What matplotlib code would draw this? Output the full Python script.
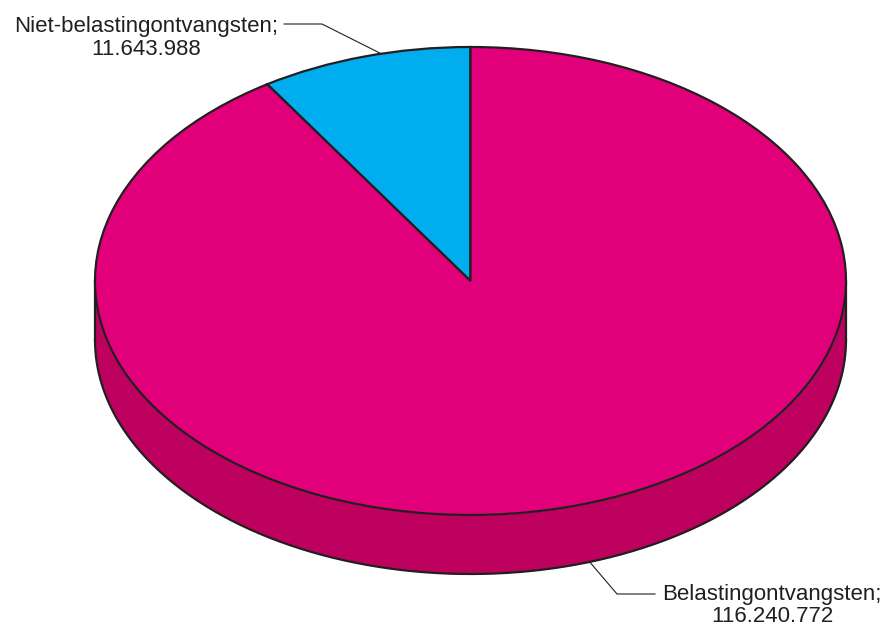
import numpy as np
import matplotlib
matplotlib.use("Agg")
import matplotlib.pyplot as plt

# Data
labels = ["Niet-belastingontvangsten", "Belastingontvangsten"]
values = [11643988, 116240772]
label_names = ["Niet-belastingontvangsten;", "Belastingontvangsten;"]
label_values = ["11.643.988", "116.240.772"]
colors = ["#00AEEF", "#E2007A"]
side_color = "#BE005F"
edge = "#231F20"

W, H = 888, 628
CX, CY, RX, RY, DEPTH = 470.5, 281.0, 375.5, 234.0, 59.0

def px(x, y):
    return ((x - CX) / RX, (CY - y) / RY)

fig = plt.figure(figsize=(W / 100, H / 100), dpi=100)
ax = fig.add_axes([0, 0, 1, 1])

LW = 1.6
d = DEPTH / RY
t = np.linspace(np.pi, 2 * np.pi, 400)
xs = np.cos(t)
ytop = np.sin(t)
ybot = ytop - d
ax.fill_between(xs, ybot, ytop, color=side_color, linewidth=0, zorder=1)
ax.plot(xs, ybot, color=edge, lw=LW, zorder=2)
ax.plot([-1, -1], [0, -d], color=edge, lw=LW, zorder=2)
ax.plot([1, 1], [0, -d], color=edge, lw=LW, zorder=2)

wedges, _ = ax.pie(values, startangle=90, counterclock=True, colors=colors,
                   radius=1, center=(0, 0),
                   wedgeprops=dict(edgecolor=edge, linewidth=LW))
for w in wedges:
    w.set_zorder(3)

ax.set_aspect("auto")
x0, y0 = px(0, H)
x1, y1 = px(W, 0)
ax.set_xlim(x0, x1)
ax.set_ylim(y0, y1)
ax.axis("off")

FS = 16
font = dict(ha="center", va="baseline", fontsize=FS, family="Liberation Sans", color="#231F20")

# Label 1 (blue slice), leader from top edge
total = sum(values)
a1 = np.deg2rad(90 + 360 * values[0] / total * 0.42)
anchor1 = (np.cos(a1), np.sin(a1))
k1 = px(322, 24)
e1 = px(284, 24)
ax.plot([anchor1[0], k1[0], e1[0]], [anchor1[1], k1[1], e1[1]], color=edge, lw=0.8, zorder=4)
ax.text(*px(146, 32), label_names[0], **font)
ax.text(*px(146, 55), label_values[0], **font)

# Label 2 (pink slice), leader from bottom of side
a2 = np.deg2rad(288.5)
anchor2 = (np.cos(a2), np.sin(a2) - d)
k2 = px(617, 594)
e2 = px(655, 594)
ax.plot([anchor2[0], k2[0], e2[0]], [anchor2[1], k2[1], e2[1]], color=edge, lw=0.8, zorder=4)
ax.text(*px(772, 600), label_names[1], **font)
ax.text(*px(772, 622), label_values[1], **font)

fig.savefig("out.png", dpi=100)
